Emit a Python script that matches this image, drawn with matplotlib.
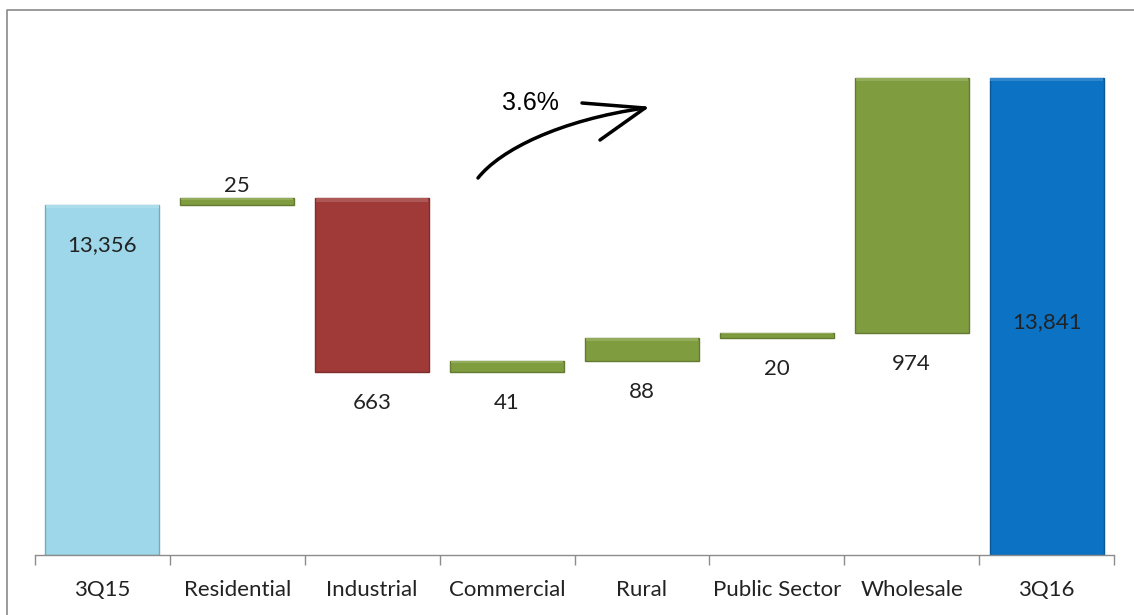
import matplotlib
matplotlib.use("Agg")
import matplotlib.pyplot as plt
import matplotlib.transforms as mtransforms
from matplotlib.path import Path
from matplotlib.patches import PathPatch
from matplotlib.lines import Line2D

# ---------------- data ----------------
categories = ['3Q15', 'Residential', 'Industrial', 'Commercial', 'Rural',
              'Public Sector', 'Wholesale', '3Q16']
start_value = 13356
changes = [25, -663, 41, 88, 20, 974]
end_value = 13841
growth_label = '3.6%'

# ---------------- style ----------------
W, H = 1134, 615
col_start = '#9DD7E9'
col_up = '#7F9D3F'
col_down = '#9F3A38'
col_end = '#0B72C4'
text_col = '#222222'
font = ['Lato', 'DejaVu Sans']

fig = plt.figure(figsize=(W / 100, H / 100), dpi=100)
fig.patch.set_facecolor('white')

# axes rectangle in pixel terms
ax_left, ax_right, ax_bottom, ax_top = 35, 1114, 555, 20
ax = fig.add_axes([ax_left / W, 1 - ax_bottom / H,
                   (ax_right - ax_left) / W, (ax_bottom - ax_top) / H])

# waterfall geometry from the data
n = len(categories)
xs = list(range(n))
bottoms, heights, colors = [], [], []
level = start_value
ylo, yhi = 12016, 14064
bottoms.append(ylo); heights.append(start_value - ylo); colors.append(col_start)
for c in changes:
    if c >= 0:
        bottoms.append(level); heights.append(c); colors.append(col_up)
    else:
        bottoms.append(level + c); heights.append(-c); colors.append(col_down)
    level += c
bottoms.append(ylo); heights.append(end_value - ylo); colors.append(col_end)

def darker(hexcol, f=0.78):
    r, g, b = matplotlib.colors.to_rgb(hexcol)
    return (r * f, g * f, b * f)

def lighter(hexcol, f=0.35):
    r, g, b = matplotlib.colors.to_rgb(hexcol)
    return (r + (1 - r) * f, g + (1 - g) * f, b + (1 - b) * f)

bw = 0.845
ax.bar(xs, heights, bottom=bottoms, width=bw, color=colors,
       edgecolor=[darker(c) for c in colors], linewidth=1.0, zorder=2)
# subtle top highlight (bevel look)
for x, b, h, c in zip(xs, bottoms, heights, colors):
    hl = min(h * 0.22, 12)
    ax.bar(x, hl, bottom=b + h - hl, width=bw * 0.985, color=lighter(c, 0.15),
           linewidth=0, zorder=3)

ax.set_xlim(-0.5, n - 0.5)
ax.set_ylim(ylo, yhi)

# value labels
def lab(x, y, s, dy_px):
    ax.annotate(s, (x, y), xytext=(0, -dy_px * 0.72), textcoords='offset points',
                ha='center', va='center', fontsize=16, color=text_col,
                family=font, zorder=5)

lab(0, start_value, f'{start_value:,}', 40)
level = start_value
for i, c in enumerate(changes, start=1):
    top = level + max(c, 0)
    bot = level + min(c, 0)
    if i == 1:
        lab(i, top, f'{abs(c):,}', -12)
    else:
        lab(i, bot, f'{abs(c):,}', 31)
    level += c
lab(n - 1, end_value, f'{end_value:,}', 244)

# axes styling
for s in ['left', 'right', 'top']:
    ax.spines[s].set_visible(False)
ax.spines['bottom'].set_color('#8C8C8C')
ax.spines['bottom'].set_linewidth(1.0)
ax.set_yticks([])
ax.set_xticks(xs)
ax.set_xticklabels(categories, fontsize=16, color=text_col, family=font)
ax.tick_params(axis='x', which='major', length=0, pad=18)
ax.set_xticks([i - 0.5 for i in range(n + 1)], minor=True)
ax.tick_params(axis='x', which='minor', length=7, width=1.0, color='#8C8C8C',
               direction='out')

# pixel transform (origin top-left)
px = mtransforms.Affine2D().scale(1 / W, -1 / H).translate(0, 1) + fig.transFigure

# outer frame (left and top edges)
fig.add_artist(Line2D([7, 7, W + 5], [H + 5, 10, 10], transform=px,
                      color='#8A8A8A', lw=1.2))

# growth arrow
curve = Path([(478, 178), (500, 150), (560, 120), (645, 108)],
             [Path.MOVETO, Path.CURVE4, Path.CURVE4, Path.CURVE4])
fig.add_artist(PathPatch(curve, transform=px, fill=False, edgecolor='black',
                         lw=2.5, capstyle='round'))
fig.add_artist(Line2D([582, 645, 600], [103, 108, 140], transform=px,
                      color='black', lw=2.5, solid_capstyle='round',
                      solid_joinstyle='round'))
fig.text(530 / W, 1 - 103 / H, growth_label, ha='center', va='center',
         fontsize=18, family=['Liberation Sans', 'DejaVu Sans'], color='black')

fig.savefig('out.png', dpi=100, facecolor='white')
